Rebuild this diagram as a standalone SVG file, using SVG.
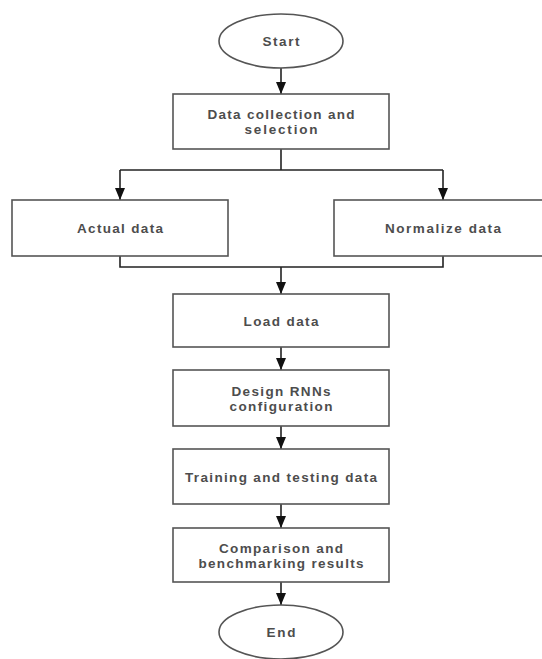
<svg xmlns="http://www.w3.org/2000/svg" width="542" height="659" viewBox="0 0 542 659">
<defs>
<marker id="arr" markerUnits="userSpaceOnUse" markerWidth="12" markerHeight="10" viewBox="0 0 12 10" refX="12" refY="5" orient="auto">
<path d="M0,0 L12,5 L0,10 Z" fill="#111"/>
</marker>
<style>
.box{fill:#fff;stroke:#555;stroke-width:1.6}
.t{font-family:"Liberation Sans",Arial,sans-serif;font-size:13.5px;font-weight:bold;fill:#4d4d4d;text-anchor:middle}
.c{fill:none;stroke:#222;stroke-width:1.6}
</style>
</defs>
<rect width="542" height="659" fill="#fff"/>
<g id="connectors">
<path class="c" d="M281,68 V94" marker-end="url(#arr)"/>
<path class="c" d="M281,149 V170"/>
<path class="c" d="M120,170 H443"/>
<path class="c" d="M120,170 V200" marker-end="url(#arr)"/>
<path class="c" d="M443,170 V200" marker-end="url(#arr)"/>
<path class="c" d="M120,256 V267 H443 V256"/>
<path class="c" d="M281,267 V294" marker-end="url(#arr)"/>
<path class="c" d="M281,347 V370" marker-end="url(#arr)"/>
<path class="c" d="M281,426 V449" marker-end="url(#arr)"/>
<path class="c" d="M281,504 V528" marker-end="url(#arr)"/>
<path class="c" d="M281,582 V605" marker-end="url(#arr)"/>
</g>
<g id="start">
<ellipse class="box" cx="281" cy="41" rx="62" ry="27"/>
<text class="t" x="281" y="46" textLength="37">Start</text>
</g>
<g id="collection">
<rect class="box" x="173" y="94" width="216" height="55"/>
<text class="t" x="281" y="119" textLength="147">Data collection and</text>
<text class="t" x="281" y="134" textLength="73">selection</text>
</g>
<g id="actual">
<rect class="box" x="12" y="200" width="216" height="56"/>
<text class="t" x="120" y="233" textLength="86">Actual data</text>
</g>
<g id="normalize">
<rect class="box" x="334" y="200" width="216" height="56"/>
<text class="t" x="443" y="233" textLength="116">Normalize data</text>
</g>
<g id="load">
<rect class="box" x="173" y="294" width="216" height="53"/>
<text class="t" x="281" y="326" textLength="75">Load data</text>
</g>
<g id="design">
<rect class="box" x="173" y="370" width="216" height="56"/>
<text class="t" x="281" y="396" textLength="99">Design RNNs</text>
<text class="t" x="281" y="411" textLength="103">configuration</text>
</g>
<g id="training">
<rect class="box" x="173" y="449" width="216" height="55"/>
<text class="t" x="281" y="482" textLength="192">Training and testing data</text>
</g>
<g id="comparison">
<rect class="box" x="173" y="528" width="216" height="54"/>
<text class="t" x="281" y="553" textLength="124">Comparison and</text>
<text class="t" x="281" y="568" textLength="165">benchmarking results</text>
</g>
<g id="end">
<ellipse class="box" cx="281" cy="632" rx="62" ry="27"/>
<text class="t" x="281" y="637" textLength="29">End</text>
</g>
</svg>
